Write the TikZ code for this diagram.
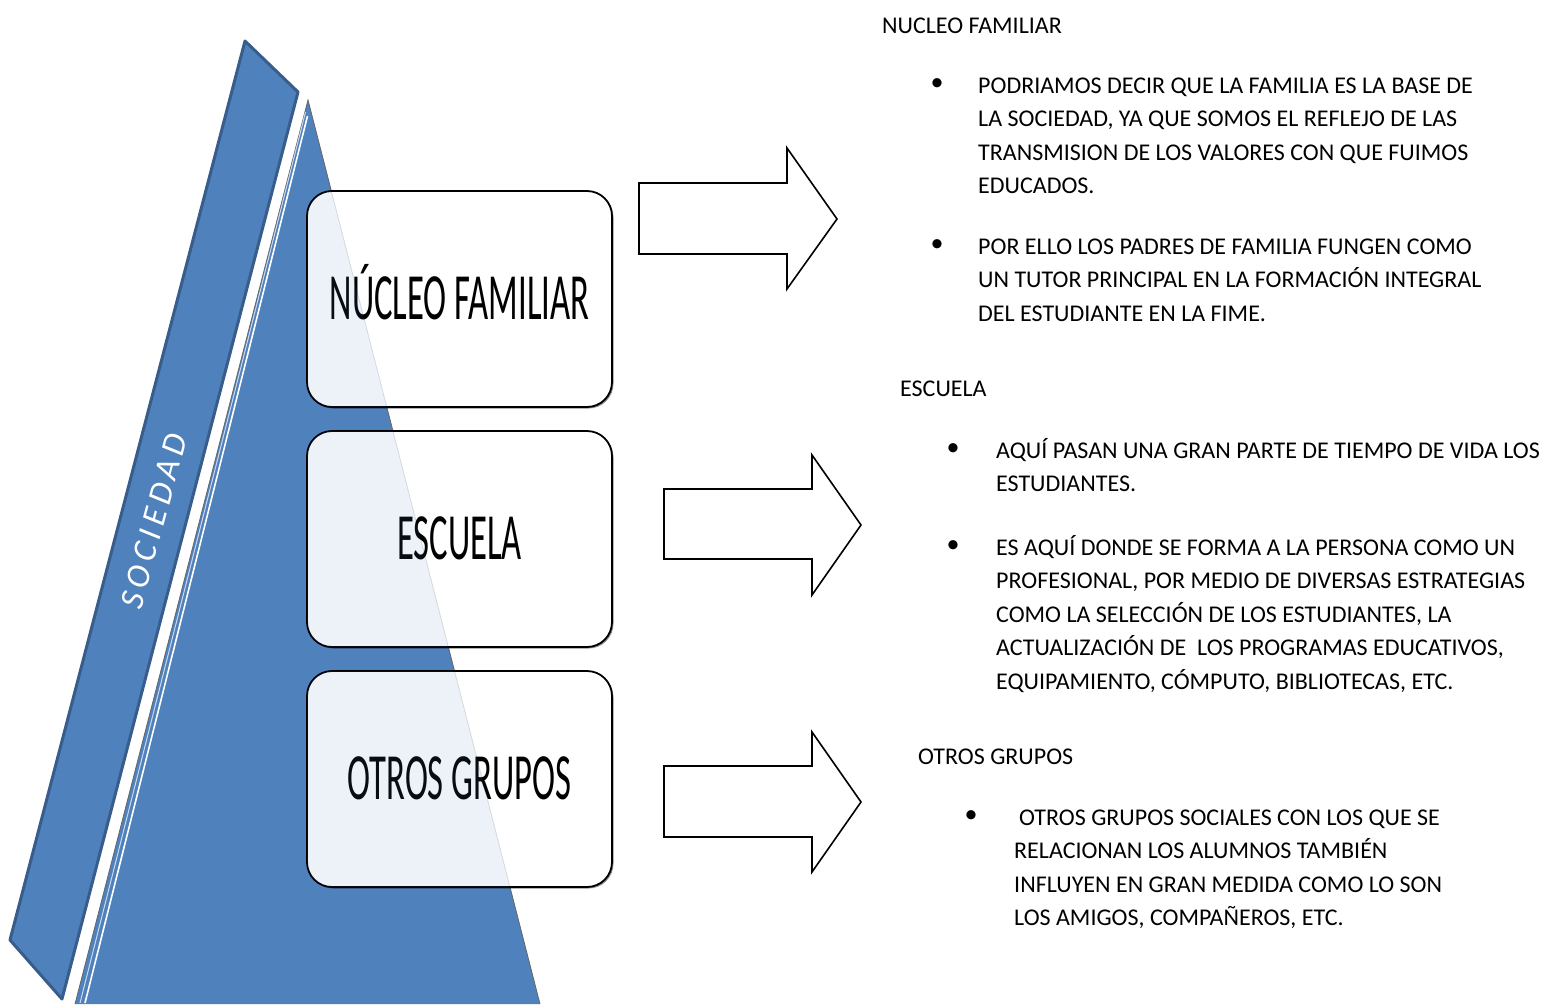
\documentclass[tikz,border=0pt]{standalone}
\usepackage{fontspec}
\setmainfont{Carlito}
\usepackage{graphicx}
\usetikzlibrary{shadows}
\definecolor{officeblue}{RGB}{79,129,189}
\definecolor{officeline}{RGB}{56,93,138}
\tikzset{
  slabshape/.style={fill=officeblue, draw=officeline, line width=3pt, line join=round},
  pyrshape/.style={fill=officeblue},
  levelbox/.style={rounded corners=25pt, draw=black, line width=1.8pt, fill=white,
    minimum width=305pt, minimum height=216pt, text height=41pt, text depth=0pt,
    inner sep=0pt, drop shadow={shadow xshift=1.5pt, shadow yshift=-1.5pt, opacity=0.45, fill=black}},
  blockarrow/.style={draw=black, fill=white, line width=1.6pt, line join=miter},
  heading/.style={anchor=base west, inner sep=0pt, font=\fontsize{24}{28}\selectfont},
  bodytext/.style={anchor=base west, inner sep=0pt},
  bulletmark/.style={anchor=center, inner sep=0pt, font=\fontsize{26}{26}\selectfont}
}
\newcommand{\boxlabel}[1]{\scalebox{0.525}[1]{\fontsize{66}{66}\selectfont #1}}
\newcommand{\para}[2]{\parbox[t]{#1}{\fontsize{24}{33.6}\selectfont\raggedright #2}}
\begin{document}
\begin{tikzpicture}[x=1pt,y=-1pt]
\useasboundingbox (0,0) rectangle (1547,1004);
\fill[white] (0,0) rectangle (1547,1004);

% slab
\draw[slabshape] (245,41) -- (298,92) -- (62,999) -- (10,940) -- cycle;
\node[text=white, rotate=75, inner sep=0pt, font=\itshape\fontsize{34}{34}\selectfont\addfontfeature{LetterSpace=16}] (soc) at (154,521) {SOCIEDAD};

% pyramid
\coordinate (apex) at (308,100);
\coordinate (bl) at (75,1004);
\coordinate (br) at (540,1004);
\fill[pyrshape] (apex) -- (br) -- (bl) -- cycle;
\draw[black!60, line width=0.8pt] (bl) -- (apex) -- (br);
\draw[white, line width=1.6pt] (307.5,116) -- (85,1003);
\draw[white!70!officeblue, line width=1pt] (305.5,112) -- (80,1003);

% boxes
\foreach \nm/\yy/\lab in {nf/299/NÚCLEO FAMILIAR, esc/539/ESCUELA, og/779/OTROS GRUPOS}{
  \node[levelbox] (\nm) at (459.5,\yy) {\boxlabel{\lab}};
  \begin{scope}
    \clip[rounded corners=25pt] ([shift={(0.9pt,0.9pt)}]\nm.south west) rectangle ([shift={(-0.9pt,-0.9pt)}]\nm.north east);
    \fill[officeblue, opacity=0.1] (apex) -- (br) -- (bl) -- cycle;
    \draw[black, opacity=0.12, line width=0.8pt] (apex) -- (br);
  \end{scope}
}

% block arrows
\draw[blockarrow] (639,183) -- (787,183) -- (787,148) -- (837,219) -- (787,289) -- (787,254) -- (639,254) -- cycle;
\draw[blockarrow] (664,489) -- (812,489) -- (812,455) -- (861,525) -- (812,595) -- (812,559) -- (664,559) -- cycle;
\draw[blockarrow] (664,766) -- (812,766) -- (812,732) -- (861,802) -- (812,872) -- (812,837) -- (664,837) -- cycle;

% right texts
\node[heading] (h1) at (882,33) {NUCLEO FAMILIAR};
\node[bulletmark] (b1) at (937,85) {•};
\node[bodytext] (t1) at (978,93) {\para{600pt}{PODRIAMOS DECIR QUE LA FAMILIA ES LA BASE DE\\LA SOCIEDAD, YA QUE SOMOS EL REFLEJO DE LAS\\TRANSMISION DE LOS VALORES CON QUE FUIMOS\\EDUCADOS.}};
\node[bulletmark] (b2) at (937,246) {•};
\node[bodytext] (t2) at (978,254) {\para{600pt}{POR ELLO LOS PADRES DE FAMILIA FUNGEN COMO\\UN TUTOR PRINCIPAL EN LA FORMACIÓN INTEGRAL\\DEL ESTUDIANTE EN LA FIME.}};

\node[heading] (h2) at (900,396) {ESCUELA};
\node[bulletmark] (b3) at (953,450) {•};
\node[bodytext] (t3) at (996,458) {\para{600pt}{AQUÍ PASAN UNA GRAN PARTE DE TIEMPO DE VIDA LOS\\ESTUDIANTES.}};
\node[bulletmark] (b4) at (953,547) {•};
\node[bodytext] (t4) at (996,555) {\para{600pt}{ES AQUÍ DONDE SE FORMA A LA PERSONA COMO UN\\PROFESIONAL, POR MEDIO DE DIVERSAS ESTRATEGIAS\\COMO LA SELECCIÓN DE LOS ESTUDIANTES, LA\\ACTUALIZACIÓN DE~~LOS PROGRAMAS EDUCATIVOS,\\EQUIPAMIENTO, CÓMPUTO, BIBLIOTECAS, ETC.}};

\node[heading] (h3) at (918,764) {OTROS GRUPOS};
\node[bulletmark] (b5) at (971,817) {•};
\node[bodytext] (t5) at (1014,825) {\para{560pt}{\hspace*{5pt}OTROS GRUPOS SOCIALES CON LOS QUE SE\\RELACIONAN LOS ALUMNOS TAMBIÉN\\INFLUYEN EN GRAN MEDIDA COMO LO SON\\LOS AMIGOS, COMPAÑEROS, ETC.}};
\end{tikzpicture}
\end{document}
